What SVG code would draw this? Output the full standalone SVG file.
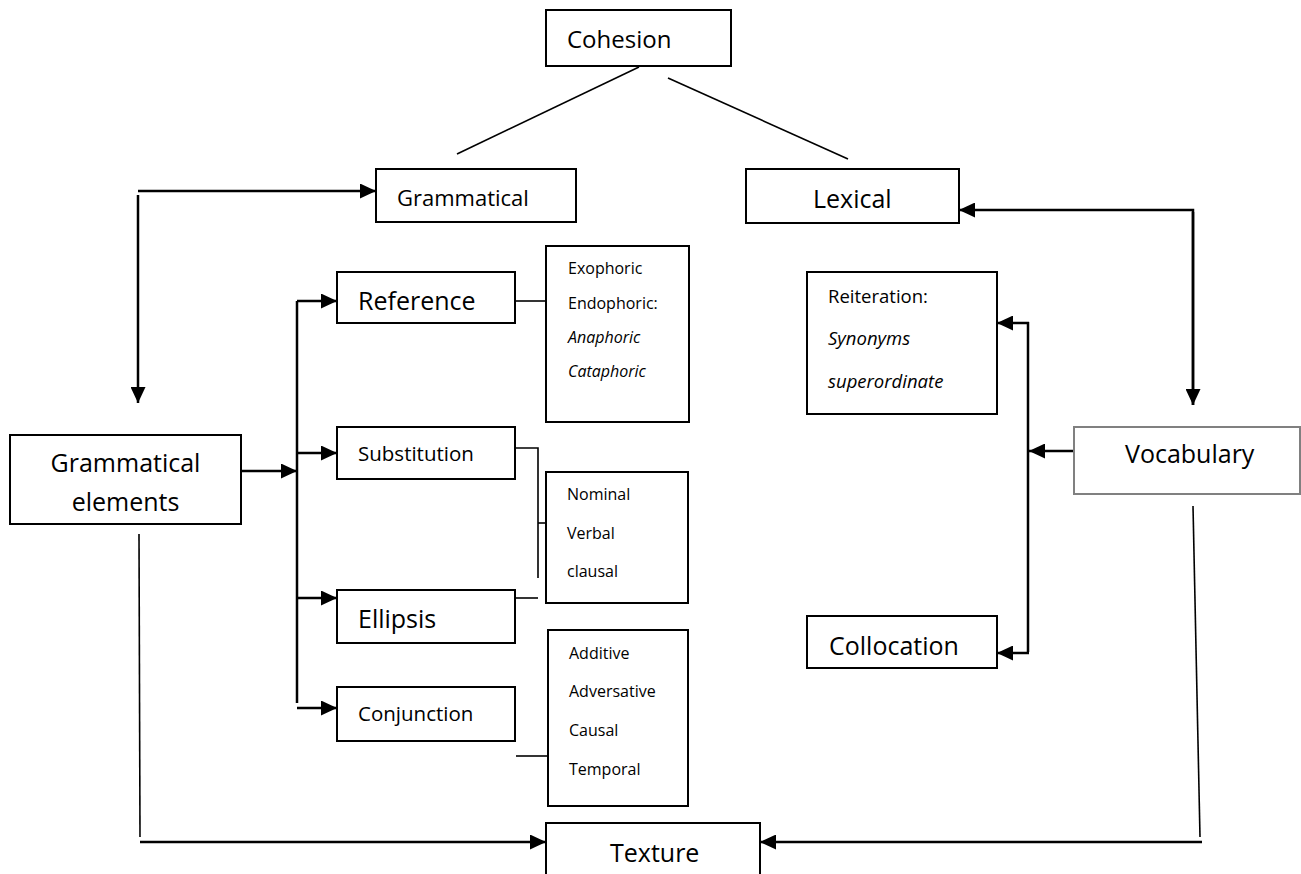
<svg xmlns="http://www.w3.org/2000/svg" width="1301" height="874" viewBox="0 0 1301 874">
<style>
  text { font-family: "Open Sans", "Liberation Sans", sans-serif; fill: #000; }
  .box { fill: #fff; stroke: #000; stroke-width: 2; }
  .gbox { fill: #fff; stroke: #808080; stroke-width: 2; }
  .arr { fill: none; stroke: #000; stroke-width: 2.5; }
  .ln { fill: none; stroke: #000; stroke-width: 1.6; }
  .it { font-style: italic; }
</style>
<defs>
  <marker id="ah" markerUnits="userSpaceOnUse" markerWidth="16" markerHeight="15" refX="16" refY="7.5" orient="auto">
    <path d="M0,0 L16,7.5 L0,15 z" fill="#000"/>
  </marker>
</defs>
<rect width="1301" height="874" fill="#fff"/>

<g id="connectors">
  <!-- Cohesion branches -->
  <line class="ln" x1="639" y1="67" x2="457" y2="154"/>
  <line class="ln" x1="668" y1="78" x2="848" y2="159"/>
  <!-- Grammatical <-> Grammatical elements -->
  <line class="arr" x1="138" y1="191" x2="376" y2="191" marker-end="url(#ah)"/>
  <line class="arr" x1="138" y1="195" x2="138" y2="403" marker-end="url(#ah)"/>
  <!-- Grammatical elements -> branch -->
  <line class="arr" x1="241" y1="471" x2="297" y2="471" marker-end="url(#ah)"/>
  <line class="arr" x1="297" y1="301" x2="297" y2="703"/>
  <polyline class="arr" points="297,301 337,301" marker-end="url(#ah)"/>
  <line class="arr" x1="297" y1="453" x2="337" y2="453" marker-end="url(#ah)"/>
  <line class="arr" x1="297" y1="598" x2="337" y2="598" marker-end="url(#ah)"/>
  <line class="arr" x1="297" y1="708" x2="337" y2="708" marker-end="url(#ah)"/>
  <!-- Reference -> Exophoric box -->
  <line class="ln" x1="515" y1="301" x2="546" y2="301"/>
  <!-- Substitution / Ellipsis -> Nominal box -->
  <polyline class="ln" points="515,448 538,448 538,578"/>
  <line class="ln" x1="538" y1="523" x2="546" y2="523"/>
  <line class="ln" x1="515" y1="598" x2="538" y2="598"/>
  <!-- Conjunction -> Additive box -->
  <line class="ln" x1="516" y1="756" x2="548" y2="756"/>
  <!-- Lexical <-> Vocabulary -->
  <polyline class="arr" points="1193,405 1193,210 959,210" marker-end="url(#ah)"/>
  <line class="arr" x1="1193" y1="212" x2="1193" y2="405" marker-end="url(#ah)"/>
  <!-- Vocabulary -> Reiteration / Collocation -->
  <line class="arr" x1="1074" y1="451" x2="1029" y2="451" marker-end="url(#ah)"/>
  <line class="arr" x1="1028" y1="322" x2="1028" y2="652"/>
  <line class="arr" x1="1029" y1="323" x2="997" y2="323" marker-end="url(#ah)"/>
  <line class="arr" x1="1029" y1="653" x2="997" y2="653" marker-end="url(#ah)"/>
  <!-- to Texture -->
  <line class="ln" x1="139" y1="534" x2="140" y2="837"/>
  <line class="arr" x1="140" y1="842" x2="546" y2="842" marker-end="url(#ah)"/>
  <line class="ln" x1="1193" y1="506" x2="1200" y2="837"/>
  <line class="arr" x1="1202" y1="842" x2="760" y2="842" marker-end="url(#ah)"/>
</g>

<g id="cohesion">
  <rect class="box" x="546" y="10" width="185" height="56"/>
  <text x="567" y="48" font-size="24">Cohesion</text>
</g>
<g id="grammatical">
  <rect class="box" x="376" y="169" width="200" height="53"/>
  <text x="397" y="206" font-size="22">Grammatical</text>
</g>
<g id="lexical">
  <rect class="box" x="746" y="169" width="213" height="54"/>
  <text x="813" y="208" font-size="25">Lexical</text>
</g>
<g id="grammatical-elements">
  <rect class="box" x="10" y="435" width="231" height="89"/>
  <text x="125.5" y="472" font-size="25" text-anchor="middle">Grammatical</text>
  <text x="125.5" y="511" font-size="25" text-anchor="middle">elements</text>
</g>
<g id="reference">
  <rect class="box" x="337" y="272" width="178" height="51"/>
  <text x="358" y="310" font-size="25">Reference</text>
</g>
<g id="reference-types">
  <rect class="box" x="546" y="246" width="143" height="176"/>
  <text x="568" y="274" font-size="16">Exophoric</text>
  <text x="568" y="309" font-size="16">Endophoric:</text>
  <text x="568" y="343" font-size="16" class="it">Anaphoric</text>
  <text x="568" y="377" font-size="16" class="it">Cataphoric</text>
</g>
<g id="substitution">
  <rect class="box" x="337" y="427" width="178" height="52"/>
  <text x="358" y="461" font-size="20.5">Substitution</text>
</g>
<g id="substitution-types">
  <rect class="box" x="546" y="472" width="142" height="131"/>
  <text x="567" y="500" font-size="16">Nominal</text>
  <text x="567" y="539" font-size="16">Verbal</text>
  <text x="567" y="577" font-size="16">clausal</text>
</g>
<g id="ellipsis">
  <rect class="box" x="337" y="590" width="178" height="53"/>
  <text x="358" y="628" font-size="25">Ellipsis</text>
</g>
<g id="conjunction">
  <rect class="box" x="337" y="687" width="178" height="54"/>
  <text x="358" y="721" font-size="20.5">Conjunction</text>
</g>
<g id="conjunction-types">
  <rect class="box" x="548" y="630" width="140" height="176"/>
  <text x="569" y="659" font-size="16">Additive</text>
  <text x="569" y="697" font-size="16">Adversative</text>
  <text x="569" y="736" font-size="16">Causal</text>
  <text x="569" y="775" font-size="16">Temporal</text>
</g>
<g id="reiteration">
  <rect class="box" x="807" y="272" width="190" height="142"/>
  <text x="828" y="303" font-size="18.5">Reiteration:</text>
  <text x="828" y="345" font-size="18.5" class="it">Synonyms</text>
  <text x="828" y="388" font-size="18.5" class="it">superordinate</text>
</g>
<g id="vocabulary">
  <rect class="gbox" x="1074" y="427" width="226" height="67"/>
  <text x="1125" y="463" font-size="25">Vocabulary</text>
</g>
<g id="collocation">
  <rect class="box" x="807" y="616" width="190" height="52"/>
  <text x="829" y="655" font-size="25">Collocation</text>
</g>
<g id="texture">
  <rect class="box" x="546" y="823" width="214" height="60"/>
  <text x="610" y="862" font-size="25">Texture</text>
</g>
</svg>
